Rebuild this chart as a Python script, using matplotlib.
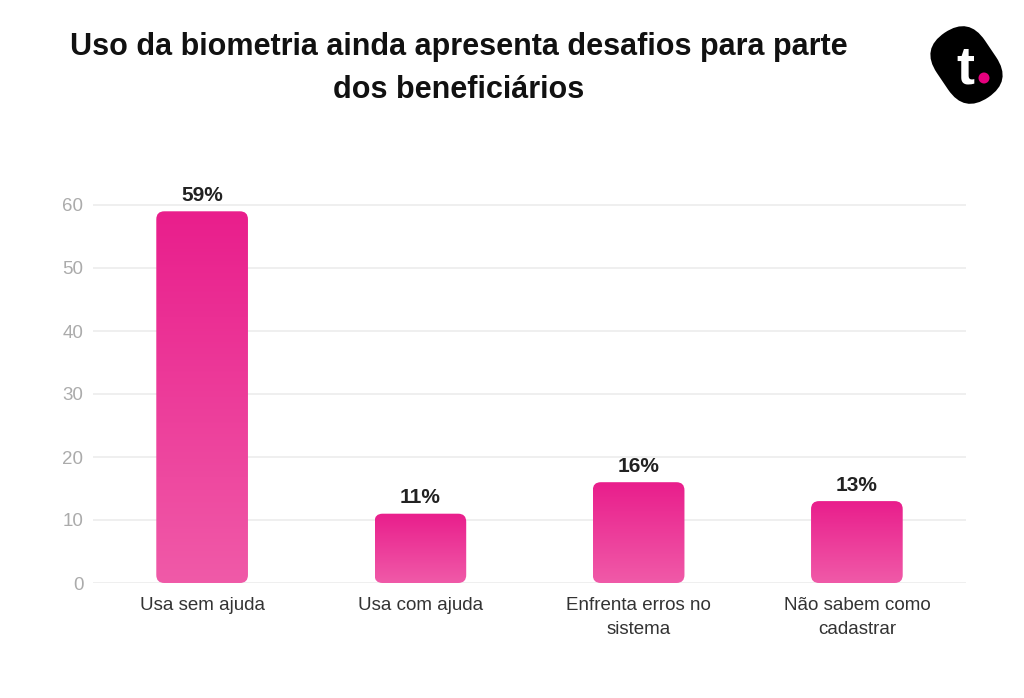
import matplotlib
matplotlib.use("Agg")
import matplotlib.pyplot as plt
import numpy as np
from matplotlib.patches import FancyBboxPatch, Circle
import matplotlib.transforms as mtransforms
from matplotlib.colors import LinearSegmentedColormap

plt.rcParams['font.family'] = ['Liberation Sans', 'DejaVu Sans']

categories = ["Usa sem ajuda", "Usa com ajuda", "Enfrenta erros no\nsistema", "Não sabem como\ncadastrar"]
values = [59, 11, 16, 13]
labels = ["59%", "11%", "16%", "13%"]
yticks = [0, 10, 20, 30, 40, 50, 60]

W, H = 1024, 698
fig = plt.figure(figsize=(W/100, H/100), dpi=100)
fig.patch.set_facecolor("white")
ax = fig.add_axes([93/W, 1-583/H, (966-93)/W, (583-173.5)/H])

for s in ax.spines.values():
    s.set_visible(False)
ax.set_yticks(yticks)
ax.yaxis.grid(True, color="#ECECEC", linewidth=1.2)
ax.set_axisbelow(True)
ax.tick_params(axis='y', length=0, pad=7, labelsize=13.5, labelcolor="#ABABAB")
ax.tick_params(axis='x', length=0, pad=10, labelsize=13.5, labelcolor="#333333")
ax.set_xticks(range(len(categories)))
ax.set_xticklabels(categories, linespacing=1.55)

bw = 0.42
grad = np.linspace(0, 1, 256).reshape(-1, 1)
cmap = LinearSegmentedColormap.from_list("pk", ["#F05AA8", "#E91E8C"])
bars = ax.bar(range(len(values)), values, width=bw, color="none")
rx = 8/218
ry = 8/6.3
for b, v, lab in zip(bars, values, labels):
    x0 = b.get_x(); w = b.get_width(); h = b.get_height()
    patch = FancyBboxPatch((x0, 0), w, h, boxstyle=f"round,pad=0,rounding_size={rx}",
                           mutation_aspect=ry/rx, facecolor="none", edgecolor="none")
    ax.add_patch(patch)
    im = ax.imshow(grad, extent=[x0, x0+w, 0, h], origin="lower", cmap=cmap,
                   aspect="auto", zorder=3)
    im.set_clip_path(patch)
    ax.text(x0 + w/2, h + 1.0, lab, ha="center", va="bottom", fontsize=15,
            fontweight="bold", color="#222222")
ax.set_xlim(-0.5, 3.5)
ax.set_ylim(0, 65)

fig.text(459/W, 1-47/H, "Uso da biometria ainda apresenta desafios para parte",
         ha="center", va="center", fontsize=22, fontweight="bold", color="#111111")
fig.text(459/W, 1-90/H, "dos beneficiários",
         ha="center", va="center", fontsize=22, fontweight="bold", color="#111111")

# logo
cx, cy = 966.5, H-65
tr = mtransforms.Affine2D().rotate_deg_around(cx, cy, -56)
L, Wd = 78, 58
logo = FancyBboxPatch((cx-L/2, cy-Wd/2), L, Wd, boxstyle=f"round,pad=0,rounding_size={Wd/2}",
                      facecolor="black", edgecolor="none", transform=tr)
logo.set_figure(fig)
fig.patches.append(logo)
fig.text(965/W, (H-83)/H, "t", ha="center", va="baseline", fontsize=39,
         fontweight="bold", color="white")
dot = Circle((984, H-78), 5.5, transform=mtransforms.IdentityTransform(),
             facecolor="#E6007E", edgecolor="none")
dot.set_figure(fig)
fig.patches.append(dot)

fig.savefig("out.png", dpi=100, facecolor="white")
